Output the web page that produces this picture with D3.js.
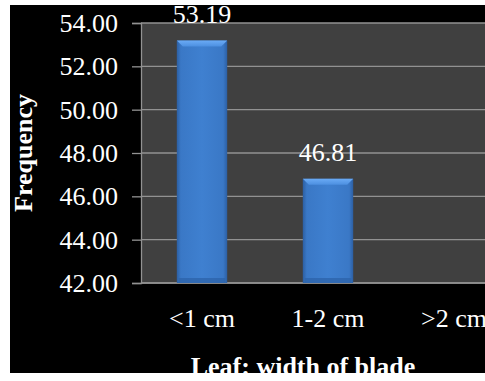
<!DOCTYPE html>
<html><head><meta charset="utf-8">
<script src="https://cdn.jsdelivr.net/npm/d3@7"></script>
<style>html,body{margin:0;padding:0;background:#fff;}svg{display:block;}</style>
</head><body>
<script>
const categories = ["<1 cm", "1-2 cm", ">2 cm"];
const values = [53.19, 46.81, 0];
const yTicks = [42, 44, 46, 48, 50, 52, 54];
const yTitle = "Frequency";
const xTitle = "Leaf: width of blade";

const W = 485, H = 381;
const FONT = "'Liberation Serif', 'Times New Roman', serif";
const svg = d3.select("body").append("svg").attr("width", W).attr("height", H);
const defs = svg.append("defs");
defs.append("clipPath").attr("id", "clipBlack")
  .append("rect").attr("x", 10).attr("y", 5).attr("width", 475).attr("height", 368);

const g = svg.append("g").attr("clip-path", "url(#clipBlack)");
g.append("rect").attr("x", 10).attr("y", 5).attr("width", 475).attr("height", 368).attr("fill", "#000");

const y = d3.scaleLinear().domain([42, 54]).range([283, 23]);
const x = d3.scaleBand().domain(categories).range([139, 517]).paddingInner(0.6).paddingOuter(0.3);

// plot area
g.append("rect").attr("x", 141).attr("y", y(54)).attr("width", 400).attr("height", y(42) - y(54)).attr("fill", "#404040");

// gridlines
g.selectAll("line.grid").data(yTicks).enter().append("line")
  .attr("x1", 141).attr("x2", 490).attr("y1", d => y(d)).attr("y2", d => y(d))
  .attr("stroke", "#929292").attr("stroke-width", 1.3);

// y axis
const yAxis = d3.axisLeft(y).tickValues(yTicks).tickFormat(d3.format(".2f")).tickSize(9).tickPadding(14);
const ya = g.append("g").attr("transform", "translate(141,0)").call(yAxis);
ya.select(".domain").attr("stroke", "#929292").attr("stroke-width", 1.3);
ya.selectAll(".tick line").attr("stroke", "#929292").attr("stroke-width", 1.3);
ya.selectAll(".tick text").attr("fill", "#fff").style("font-family", FONT)
  .style("font-size", "26px").attr("dy", "0.33em");

// x axis
const xAxis = d3.axisBottom(x).tickSize(0).tickPadding(26);
const xa = g.append("g").attr("transform", `translate(0,${y(42)})`).call(xAxis);
xa.select(".domain").remove();
xa.selectAll(".tick text").attr("fill", "#fff").style("font-family", FONT)
  .style("font-size", "26px").attr("dy", "0.71em");
g.append("line").attr("x1", 141).attr("x2", 490).attr("y1", y(42)).attr("y2", y(42))
  .attr("stroke", "#929292").attr("stroke-width", 1.5);

// bar gradients
const hg = defs.append("linearGradient").attr("id", "barH").attr("x1", 0).attr("x2", 1).attr("y1", 0).attr("y2", 0);
hg.append("stop").attr("offset", 0).attr("stop-color", "#2c5fa3");
hg.append("stop").attr("offset", 0.08).attr("stop-color", "#3a78c6");
hg.append("stop").attr("offset", 0.5).attr("stop-color", "#3f80d0");
hg.append("stop").attr("offset", 0.92).attr("stop-color", "#3a78c6");
hg.append("stop").attr("offset", 1).attr("stop-color", "#2c5fa3");
const tg = defs.append("linearGradient").attr("id", "barTop").attr("x1", 0).attr("x2", 0).attr("y1", 0).attr("y2", 1);
tg.append("stop").attr("offset", 0).attr("stop-color", "#6aaaf5");
tg.append("stop").attr("offset", 1).attr("stop-color", "#4c8fe0");

const barData = categories.map((c, i) => ({ c, v: values[i] })).filter(d => d.v > 42);
const bw = x.bandwidth();
const bars = g.selectAll("g.bar").data(barData).enter().append("g");
bars.append("rect").attr("x", d => x(d.c)).attr("y", d => y(d.v)).attr("width", bw)
  .attr("height", d => y(42) - y(d.v)).attr("fill", "url(#barH)");
bars.append("rect").attr("x", d => x(d.c) + 2).attr("y", y(42) - 5).attr("width", bw - 4).attr("height", 5)
  .attr("fill", "#2d64ab").attr("opacity", 0.8);
const bev = 6;
bars.append("path").attr("d", d => {
  const x0 = x(d.c), x1 = x0 + bw, t = y(d.v);
  return `M${x0},${t}L${x1},${t}L${x1 - bev},${t + bev}L${x0 + bev},${t + bev}Z`;
}).attr("fill", "url(#barTop)");

// value labels
g.selectAll("text.val").data(barData).enter().append("text")
  .attr("x", d => x(d.c) + bw / 2).attr("y", d => y(d.v) - 17.5)
  .attr("text-anchor", "middle").attr("fill", "#fff")
  .style("font-family", FONT).style("font-size", "26px")
  .text(d => d3.format(".2f")(d.v));

// titles
g.append("text").attr("transform", "translate(32,153) rotate(-90)").attr("text-anchor", "middle")
  .attr("fill", "#fff").style("font-family", FONT)
  .style("font-size", "26px").attr("font-weight", "bold").text(yTitle);
g.append("text").attr("x", 303).attr("y", 374.5).attr("text-anchor", "middle")
  .attr("fill", "#fff").style("font-family", FONT)
  .style("font-size", "26px").attr("font-weight", "bold").text(xTitle);
</script>
</body></html>
